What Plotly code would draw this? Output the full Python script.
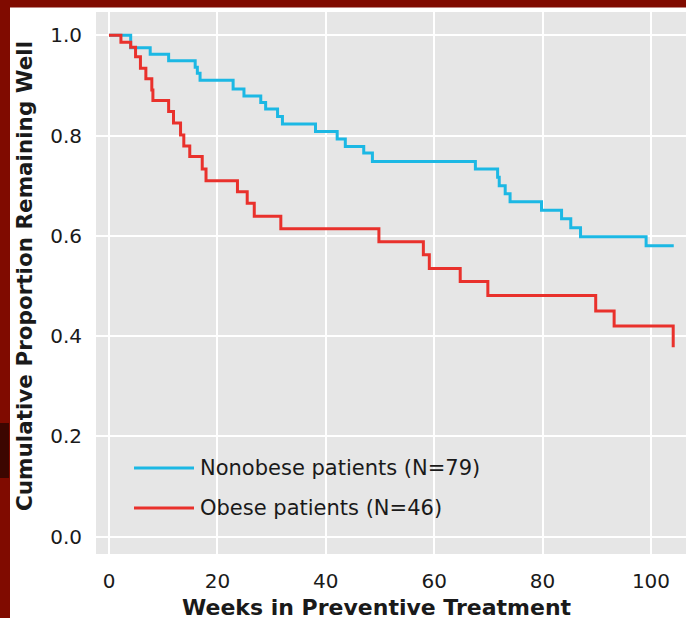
import plotly.graph_objects as go

# Nonobese patients (N=79)
weeks_nonobese = [0, 4.0, 7.6, 11.0, 15.9, 16.3, 16.8, 22.9, 24.9, 28.0, 28.9, 31.1, 32.0,
                  38.1, 42.1, 43.6, 47.0, 48.6, 67.6, 71.7, 72.0, 73.1, 74.0, 79.8,
                  83.5, 85.2, 87.0, 99.1, 104.2]
surv_nonobese = [1.0, 0.975, 0.962, 0.949, 0.936, 0.924, 0.910, 0.893, 0.879, 0.866, 0.853,
                 0.838, 0.823, 0.808, 0.793, 0.778, 0.765, 0.748, 0.733, 0.717, 0.700,
                 0.684, 0.668, 0.651, 0.634, 0.616, 0.598, 0.580, 0.580]

# Obese patients (N=46)
weeks_obese = [0, 2.2, 4.0, 4.9, 5.8, 6.8, 7.9, 8.1, 11.0, 11.9, 13.2, 13.8, 14.9, 17.2,
               17.9, 23.7, 25.5, 26.8, 31.7, 49.8, 58.0, 59.1, 64.8, 69.9, 89.8, 93.2, 104.1]
surv_obese = [1.0, 0.986, 0.976, 0.957, 0.934, 0.913, 0.891, 0.870, 0.848, 0.825, 0.801,
              0.779, 0.758, 0.733, 0.710, 0.688, 0.665, 0.639, 0.614, 0.588, 0.562, 0.535,
              0.509, 0.481, 0.450, 0.420, 0.378]

series_names = ["Nonobese patients (N=79)", "Obese patients (N=46)"]
series_colors = ["#1cb8e4", "#e9312c"]

x_ticks = [0, 20, 40, 60, 80, 100]
y_ticks = [0.0, 0.2, 0.4, 0.6, 0.8, 1.0]
x_title = "Weeks in Preventive Treatment"
y_title = "Cumulative Proportion Remaining Well"

FONT = "DejaVu Sans"
W, H = 686, 623
ML, MR, MT, MB = 96, 0, 12, 69
XR = [-2.4, 106.46]
YR = [-0.0345, 1.0463]

fig = go.Figure()
for xs, ys, name, col in [(weeks_nonobese, surv_nonobese, series_names[0], series_colors[0]),
                          (weeks_obese, surv_obese, series_names[1], series_colors[1])]:
    fig.add_trace(go.Scatter(x=xs, y=ys, mode="lines", name=name, line_shape="hv",
                             line=dict(color=col, width=3), showlegend=False))

def px_to_paper_x(p):
    return (p - ML) / (W - ML - MR)

def px_to_paper_y(q):
    return (H - MB - q) / (H - MT - MB)

shapes = []
annotations = []
# manual legend
leg_rows = [(468, series_names[0], series_colors[0]), (508, series_names[1], series_colors[1])]
for yy, name, col in leg_rows:
    shapes.append(dict(type="line", xref="paper", yref="paper",
                       x0=px_to_paper_x(134), x1=px_to_paper_x(194),
                       y0=px_to_paper_y(yy), y1=px_to_paper_y(yy),
                       line=dict(color=col, width=3)))
    annotations.append(dict(text=name, xref="paper", yref="paper",
                            x=px_to_paper_x(198), y=px_to_paper_y(yy),
                            xanchor="left", yanchor="middle", showarrow=False,
                            font=dict(family=FONT, size=21, color="#1a1a1a")))

# axis titles
annotations.append(dict(text="<b>" + x_title + "</b>", xref="paper", yref="paper",
                        x=px_to_paper_x(377), y=px_to_paper_y(607),
                        xanchor="center", yanchor="middle", showarrow=False,
                        font=dict(family=FONT, size=22, color="#1a1a1a")))
annotations.append(dict(text="<b>" + y_title + "</b>", xref="paper", yref="paper",
                        x=px_to_paper_x(24), y=px_to_paper_y(276), textangle=-90,
                        xanchor="center", yanchor="middle", showarrow=False,
                        font=dict(family=FONT, size=21.5, color="#1a1a1a")))

# dark red frame (top and left)
frame = "#800b00"
shapes.append(dict(type="rect", xref="paper", yref="paper", layer="above",
                   x0=px_to_paper_x(0), x1=px_to_paper_x(W), y0=px_to_paper_y(7.5), y1=px_to_paper_y(0),
                   fillcolor=frame, line=dict(width=0)))
shapes.append(dict(type="rect", xref="paper", yref="paper", layer="above",
                   x0=px_to_paper_x(0), x1=px_to_paper_x(10), y0=px_to_paper_y(618), y1=px_to_paper_y(0),
                   fillcolor=frame, line=dict(width=0)))
shapes.append(dict(type="rect", xref="paper", yref="paper", layer="above",
                   x0=px_to_paper_x(0), x1=px_to_paper_x(9), y0=px_to_paper_y(478), y1=px_to_paper_y(423),
                   fillcolor="#3c0600", line=dict(width=0)))

fig.update_layout(
    width=W, height=H,
    margin=dict(l=ML, r=MR, t=MT, b=MB, pad=0),
    paper_bgcolor="white", plot_bgcolor="#e6e6e6",
    font=dict(family=FONT, size=19, color="#1a1a1a"),
    shapes=shapes, annotations=annotations,
    showlegend=False,
)
fig.update_xaxes(range=XR, tickvals=x_ticks, ticktext=[str(v) for v in x_ticks],
                 showgrid=True, gridcolor="white", gridwidth=2, zeroline=False,
                 ticks="outside", ticklen=9, tickcolor="rgba(0,0,0,0)",
                 tickfont=dict(family=FONT, size=20, color="#1a1a1a"))
fig.update_yaxes(range=YR, tickvals=y_ticks, ticktext=[f"{v:.1f}" for v in y_ticks],
                 showgrid=True, gridcolor="white", gridwidth=2, zeroline=False,
                 ticks="outside", ticklen=9, tickcolor="rgba(0,0,0,0)",
                 tickfont=dict(family=FONT, size=20, color="#1a1a1a"))

fig.write_html("out.html", config={"displayModeBar": False},
               post_script="document.body.style.margin='0px';document.body.style.overflow='hidden';")
